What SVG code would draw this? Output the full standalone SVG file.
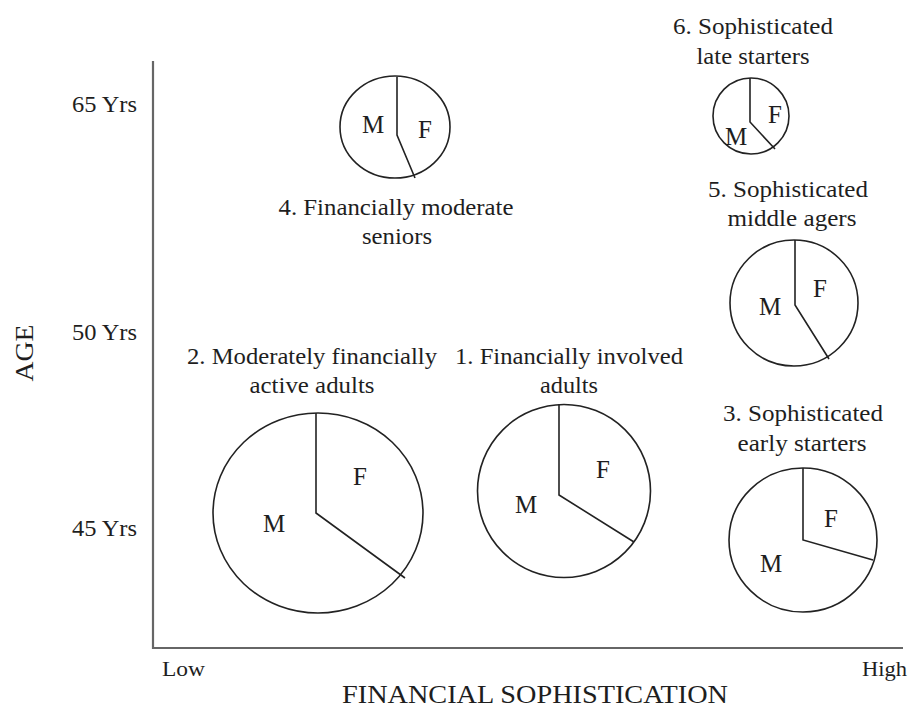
<svg xmlns="http://www.w3.org/2000/svg" width="915" height="708" viewBox="0 0 915 708">
<style>
text{font-family:"Liberation Serif","Times New Roman",serif;fill:#1e1e1e}
.lbl{font-size:24px;text-anchor:middle}
.pl{font-size:25px;text-anchor:middle}
.ax{font-size:24px;text-anchor:end}
.pie{fill:none;stroke:#222;stroke-width:1.6}
.axis{fill:none;stroke:#666;stroke-width:2.2}
</style>
<rect width="915" height="708" fill="#fff"/>
<g id="axes">
<path class="axis" d="M153,61 V648 H903"/>
<text class="ax" x="137" y="112" textLength="65" lengthAdjust="spacingAndGlyphs">65 Yrs</text>
<text class="ax" x="137" y="340" textLength="65" lengthAdjust="spacingAndGlyphs">50 Yrs</text>
<text class="ax" x="137" y="536" textLength="65" lengthAdjust="spacingAndGlyphs">45 Yrs</text>
<text x="162" y="676" style="font-size:22px" textLength="43" lengthAdjust="spacingAndGlyphs">Low</text>
<text x="907" y="676" style="font-size:22px;text-anchor:end" textLength="45" lengthAdjust="spacingAndGlyphs">High</text>
<text x="535" y="703" style="font-size:26px;text-anchor:middle" textLength="386" lengthAdjust="spacingAndGlyphs">FINANCIAL SOPHISTICATION</text>
<text transform="translate(33,353) rotate(-90)" style="font-size:26px;text-anchor:middle" textLength="57" lengthAdjust="spacingAndGlyphs">AGE</text>
</g>
<g id="connectors"></g>
<g id="node4">
<ellipse class="pie" cx="395" cy="127" rx="55" ry="51"/>
<polyline class="pie" points="397,77 397,135 415,178"/>
<text class="pl" x="373" y="133">M</text>
<text class="pl" x="425" y="138">F</text>
<text class="lbl" x="396" y="215" textLength="235" lengthAdjust="spacingAndGlyphs">4. Financially moderate</text>
<text class="lbl" x="397" y="244" textLength="70" lengthAdjust="spacingAndGlyphs">seniors</text>
</g>
<g id="node6">
<circle class="pie" cx="751" cy="116" r="38"/>
<polyline class="pie" points="750,78 750,122 775,149"/>
<text class="pl" x="736" y="145">M</text>
<text class="pl" x="775" y="123">F</text>
<text class="lbl" x="753" y="34" textLength="160" lengthAdjust="spacingAndGlyphs">6. Sophisticated</text>
<text class="lbl" x="753" y="64" textLength="113" lengthAdjust="spacingAndGlyphs">late starters</text>
</g>
<g id="node5">
<ellipse class="pie" cx="794" cy="303" rx="64" ry="63"/>
<polyline class="pie" points="795,240 795,305 829,359"/>
<text class="pl" x="770" y="315">M</text>
<text class="pl" x="820" y="297">F</text>
<text class="lbl" x="788" y="197" textLength="160" lengthAdjust="spacingAndGlyphs">5. Sophisticated</text>
<text class="lbl" x="792" y="226" textLength="129" lengthAdjust="spacingAndGlyphs">middle agers</text>
</g>
<g id="node2">
<ellipse class="pie" cx="318" cy="513" rx="105" ry="100"/>
<polyline class="pie" points="316,413 316,513 405,578"/>
<text class="pl" x="274" y="532">M</text>
<text class="pl" x="360" y="485">F</text>
<text class="lbl" x="312" y="364" textLength="250" lengthAdjust="spacingAndGlyphs">2. Moderately financially</text>
<text class="lbl" x="312" y="393" textLength="125" lengthAdjust="spacingAndGlyphs">active adults</text>
</g>
<g id="node1">
<circle class="pie" cx="564" cy="491" r="86.5"/>
<polyline class="pie" points="559,404 559,495 634,542"/>
<text class="pl" x="526" y="513">M</text>
<text class="pl" x="603" y="478">F</text>
<text class="lbl" x="569" y="364" textLength="228" lengthAdjust="spacingAndGlyphs">1. Financially involved</text>
<text class="lbl" x="569" y="393" textLength="58" lengthAdjust="spacingAndGlyphs">adults</text>
</g>
<g id="node3">
<ellipse class="pie" cx="803" cy="540" rx="74" ry="72"/>
<polyline class="pie" points="803,468 803,540 873,560"/>
<text class="pl" x="771" y="572">M</text>
<text class="pl" x="831" y="527">F</text>
<text class="lbl" x="803" y="421" textLength="160" lengthAdjust="spacingAndGlyphs">3. Sophisticated</text>
<text class="lbl" x="802" y="451" textLength="129" lengthAdjust="spacingAndGlyphs">early starters</text>
</g>
</svg>
